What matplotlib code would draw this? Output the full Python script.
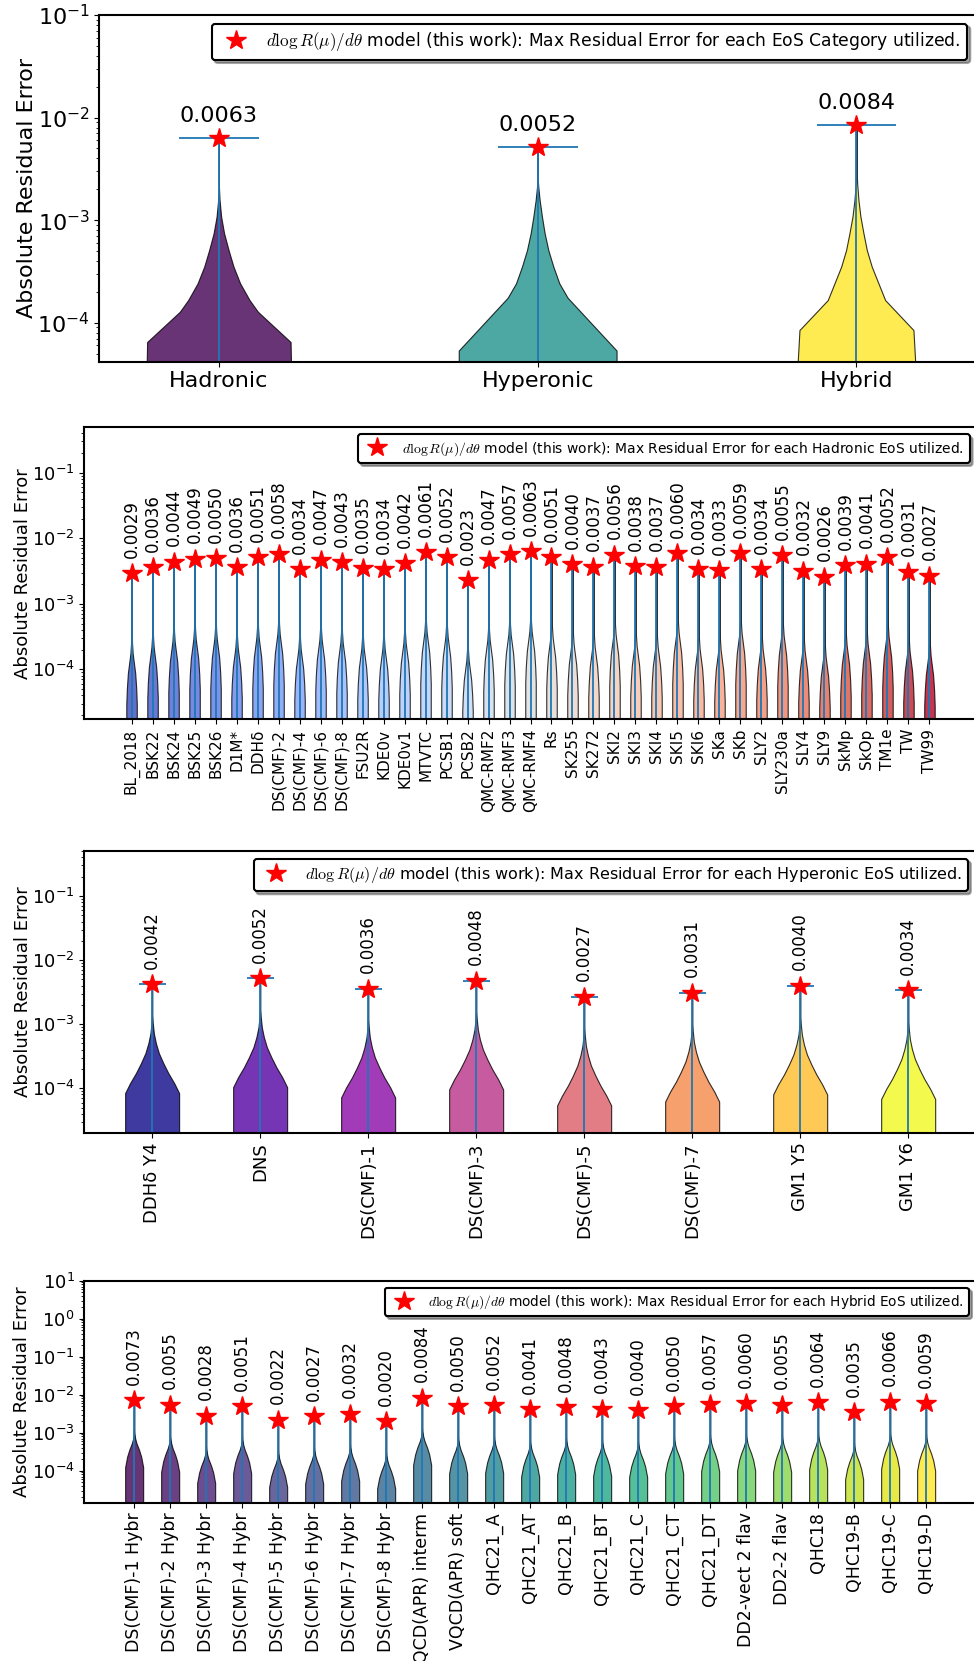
import numpy as np
import matplotlib
matplotlib.use("Agg")
import matplotlib.pyplot as plt
from matplotlib.font_manager import FontProperties
from matplotlib.ticker import LogLocator, NullFormatter

# ------------------------------------------------------------------ data
category_names = ["Hadronic", "Hyperonic", "Hybrid"]
category_max_err = [0.0063, 0.0052, 0.0084]

hadronic_names = [
    "BL_2018", "BSK22", "BSK24", "BSK25", "BSK26", "D1M*", "DDHδ",
    "DS(CMF)-2", "DS(CMF)-4", "DS(CMF)-6", "DS(CMF)-8", "FSU2R", "KDE0v",
    "KDE0v1", "MTVTC", "PCSB1", "PCSB2", "QMC-RMF2", "QMC-RMF3", "QMC-RMF4",
    "Rs", "SK255", "SK272", "SKI2", "SKI3", "SKI4", "SKI5", "SKI6", "SKa",
    "SKb", "SLY2", "SLY230a", "SLY4", "SLY9", "SkMp", "SkOp", "TM1e", "TW",
    "TW99",
]
hadronic_max_err = [
    0.0029, 0.0036, 0.0044, 0.0049, 0.0050, 0.0036, 0.0051, 0.0058, 0.0034,
    0.0047, 0.0043, 0.0035, 0.0034, 0.0042, 0.0061, 0.0052, 0.0023, 0.0047,
    0.0057, 0.0063, 0.0051, 0.0040, 0.0037, 0.0056, 0.0038, 0.0037, 0.0060,
    0.0034, 0.0033, 0.0059, 0.0034, 0.0055, 0.0032, 0.0026, 0.0039, 0.0041,
    0.0052, 0.0031, 0.0027,
]

hyperonic_names = ["DDHδ Y4", "DNS", "DS(CMF)-1", "DS(CMF)-3", "DS(CMF)-5",
                   "DS(CMF)-7", "GM1 Y5", "GM1 Y6"]
hyperonic_max_err = [0.0042, 0.0052, 0.0036, 0.0048, 0.0027, 0.0031, 0.0040,
                     0.0034]

hybrid_names = [
    "DS(CMF)-1 Hybr", "DS(CMF)-2 Hybr", "DS(CMF)-3 Hybr", "DS(CMF)-4 Hybr",
    "DS(CMF)-5 Hybr", "DS(CMF)-6 Hybr", "DS(CMF)-7 Hybr", "DS(CMF)-8 Hybr",
    "VQCD(APR) interm", "VQCD(APR) soft", "QHC21_A", "QHC21_AT", "QHC21_B",
    "QHC21_BT", "QHC21_C", "QHC21_CT", "QHC21_DT", "DD2-vect 2 flav",
    "DD2-2 flav", "QHC18", "QHC19-B", "QHC19-C", "QHC19-D",
]
hybrid_max_err = [
    0.0073, 0.0055, 0.0028, 0.0051, 0.0022, 0.0027, 0.0032, 0.0020, 0.0084,
    0.0050, 0.0052, 0.0041, 0.0048, 0.0043, 0.0040, 0.0050, 0.0057, 0.0060,
    0.0055, 0.0064, 0.0035, 0.0066, 0.0059,
]

# Residual-error density profiles: level given as a fraction of the maximum
# residual of the EoS (or category), density relative to its peak value.
category_profile_level = [
    [1e-6, 0.0103, 0.0203, 0.0264, 0.0384, 0.0559, 0.0811, 0.118, 0.171, 0.249, 0.35, 1.0],
    [1e-6, 0.0103, 0.0337, 0.0465, 0.0677, 0.098, 0.143, 0.208, 0.302, 0.40, 0.50, 1.0],
    [1e-6, 0.0101, 0.0198, 0.0288, 0.0419, 0.0608, 0.0886, 0.129, 0.187, 0.272, 0.40, 1.0],
]
category_profile_density = [
    [1.0, 0.90, 0.49, 0.385, 0.267, 0.184, 0.122, 0.066, 0.029, 0.009, 0.0, 0.0],
    [1.0, 0.99, 0.376, 0.272, 0.197, 0.134, 0.088, 0.054, 0.025, 0.009, 0.0, 0.0],
    [1.0, 0.715, 0.36, 0.276, 0.192, 0.13, 0.088, 0.05, 0.025, 0.009, 0.0, 0.0],
]

hadronic_profile_level = [1e-6, 0.0101, 0.017, 0.03, 0.04, 0.06, 0.085, 0.12, 0.2, 0.3, 0.4, 1.0]
hadronic_profile_density = [1.0, 1.0, 0.9, 0.7, 0.5, 0.22, 0.1, 0.045, 0.012, 0.002, 0.0, 0.0]

hyperonic_profile_level = [1e-6, 0.0101, 0.02, 0.0285, 0.041, 0.058, 0.084, 0.12, 0.17, 0.25, 0.35, 0.45, 1.0]
hyperonic_profile_density = [1.0, 1.0, 1.0, 0.82, 0.6, 0.42, 0.25, 0.14, 0.065, 0.022, 0.004, 0.0, 0.0]

hybrid_profile_level = [1e-6, 0.0101, 0.017, 0.032, 0.048, 0.072, 0.097, 0.13, 0.2, 0.3, 1.0]
hybrid_profile_density = [1.0, 1.0, 1.0, 0.78, 0.55, 0.26, 0.11, 0.04, 0.008, 0.0, 0.0]

LEGEND_TEXT = (r"$d\log R(\mu)/d\theta$ model (this work): "
               r"Max Residual Error for each {} utilized.")

# ---------------------------------------------------------------- figure
W, H = 974.0, 1661.0
fig = plt.figure(figsize=(W / 100, H / 100), dpi=100)


def px_rect(left, right, top, bottom):
    return [left / W, 1 - bottom / H, (right - left) / W, (bottom - top) / H]


def violin_stats(max_err, level, density):
    coords = np.asarray(level, float) * max_err
    return dict(coords=coords, vals=np.asarray(density, float),
                mean=max_err, median=max_err, min=coords[0], max=max_err)


def draw_panel(ax, names, max_err, levels, densities, cmap, xlim, ylim,
               legend_what, fs_tick, fs_xtick, fs_num, fs_leg, rotate, ylabel_x):
    pos = np.arange(1, len(names) + 1)
    stats = [violin_stats(m, lv, dn) for m, lv, dn in zip(max_err, levels, densities)]
    ax.set_yscale("log")
    parts = ax.violin(stats, positions=pos, widths=0.5, showextrema=True)
    colors = cmap(np.linspace(0, 1, len(names)))
    for body, c in zip(parts["bodies"], colors):
        body.set_facecolor(c)
        body.set_edgecolor("black")
        body.set_linewidth(0.8)
        body.set_alpha(0.8)
    for key in ("cbars", "cmaxes", "cmins"):
        parts[key].set_color("C0")
        parts[key].set_linewidth(1.3)

    ax.plot(pos, max_err, linestyle="none", marker="*", color="red",
            markersize=14.5, zorder=4,
            label=LEGEND_TEXT.format(legend_what))

    for p, v in zip(pos, max_err):
        if rotate:
            ax.annotate(f"{v:.4f}", (p, v), xytext=(0, 11),
                        textcoords="offset points", rotation=90,
                        ha="center", va="bottom", fontsize=fs_num)
        else:
            ax.annotate(f"{v:.4f}", (p, v), xytext=(0, 11.5),
                        textcoords="offset points",
                        ha="center", va="baseline", fontsize=fs_num)

    ax.set_xlim(*xlim)
    ax.set_ylim(*ylim)
    ax.set_xticks(pos)
    ax.set_xticklabels(names, rotation=90 if rotate else 0, fontsize=fs_xtick)
    ax.yaxis.set_major_locator(LogLocator(base=10, numticks=20))
    ax.yaxis.set_minor_locator(LogLocator(base=10, subs=np.arange(2, 10), numticks=100))
    ax.yaxis.set_minor_formatter(NullFormatter())
    ax.tick_params(axis="y", labelsize=fs_tick)
    ax.set_ylabel("Absolute Residual Error", fontsize=fs_tick)
    ax.yaxis.set_label_coords(ylabel_x, 0.5)
    for sp in ax.spines.values():
        sp.set_linewidth(1.5)

    prop = FontProperties(family="DejaVu Sans", size=fs_leg, math_fontfamily="cm")
    leg = ax.legend(loc="upper right", shadow=True, prop=prop,
                    edgecolor="black", framealpha=1, fancybox=True)
    leg.get_frame().set_linewidth(1.5)


ax1 = fig.add_axes(px_rect(99.3, 976.0, 15.0, 361.7))
draw_panel(ax1, category_names, category_max_err,
           category_profile_level, category_profile_density,
           plt.cm.viridis, (0.625, 3.375), (10 ** -4.38, 1e-1),
           "EoS Category", 16, 16, 16, 12.3, rotate=False, ylabel_x=-0.071)

ax2 = fig.add_axes(px_rect(84.3, 976.7, 427.3, 719.0))
draw_panel(ax2, hadronic_names, hadronic_max_err,
           [hadronic_profile_level] * len(hadronic_names),
           [hadronic_profile_density] * len(hadronic_names),
           plt.cm.coolwarm, (-1.25, 41.25), (10 ** -4.758, 10 ** -0.307),
           "Hadronic EoS", 13, 11, 12, 10, rotate=True, ylabel_x=-0.059)

ax3 = fig.add_axes(px_rect(84.3, 976.0, 850.7, 1132.7))
draw_panel(ax3, hyperonic_names, hyperonic_max_err,
           [hyperonic_profile_level] * len(hyperonic_names),
           [hyperonic_profile_density] * len(hyperonic_names),
           plt.cm.plasma, (0.372, 8.628), (10 ** -4.693, 10 ** -0.293),
           "Hyperonic EoS", 13, 13, 12, 11.5, rotate=True, ylabel_x=-0.059)

ax4 = fig.add_axes(px_rect(84.3, 976.0, 1280.7, 1502.7))
draw_panel(ax4, hybrid_names, hybrid_max_err,
           [hybrid_profile_level] * len(hybrid_names),
           [hybrid_profile_density] * len(hybrid_names),
           plt.cm.viridis, (-0.385, 24.385), (10 ** -4.842, 1e1),
           "Hybrid EoS", 13, 12.5, 12, 9.8, rotate=True, ylabel_x=-0.060)

fig.savefig("out.png", dpi=100)
